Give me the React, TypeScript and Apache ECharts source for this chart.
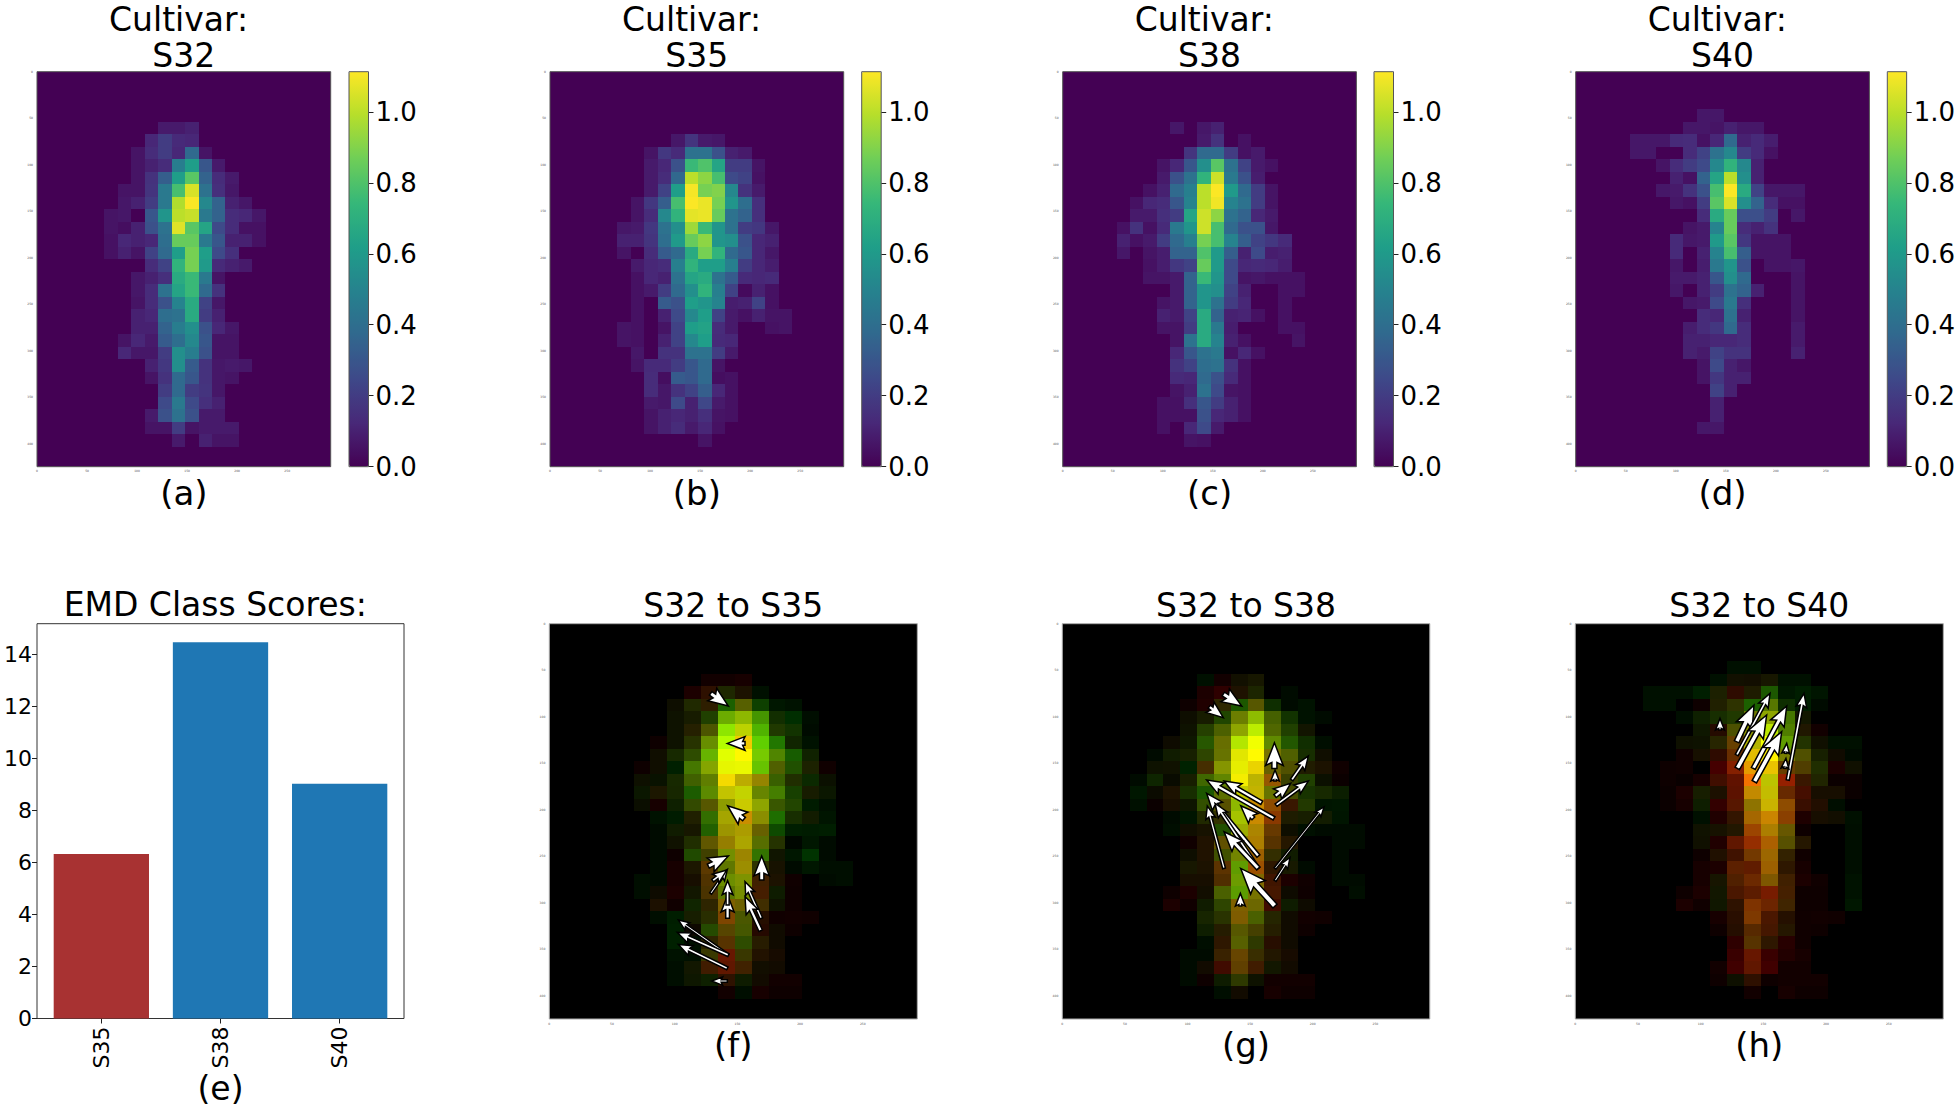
import React, { useEffect, useRef } from "react";
import * as echarts from "echarts";

type Row = number[];

const FONT = "DejaVu Sans";
const CELL = 13.45;
const X_MAX = 293.5;
const Y_MAX = 425;
const COLOR_MAX = 1.113;

const xTicks = [0, 50, 100, 150, 200, 250];
const yTicks = [0, 50, 100, 150, 200, 250, 300, 350, 400];
const colorTicks = [0, 0.2, 0.4, 0.6, 0.8, 1.0];
const viridis = ["#440154", "#482878", "#3e4989", "#31688e", "#26828e", "#1f9e89", "#35b779", "#6ece58", "#b5de2b", "#fde725"];

// each row: [row index, first column, ...values]
const s32: Row[] = [
  [4, 9, .08, .08, .1],
  [5, 8, .12, .2, .13, .12],
  [6, 7, .06, .14, .2, .12, .38, .06],
  [7, 7, .06, .1, .14, .47, .62, .3, .08],
  [8, 7, .06, .16, .33, .62, .82, .35, .14, .08],
  [9, 6, .06, .06, .17, .45, .78, 1.05, .42, .15, .07],
  [10, 6, .07, .1, .2, .45, .98, 1.11, .52, .35, .1, .07],
  [11, 5, .06, .07, 0, .3, .58, 1.0, 1.02, .45, .35, .14, .12, .07],
  [12, 5, .06, .04, .1, .28, .42, 1.06, .82, .65, .25, .14, .05, .05],
  [13, 5, .05, .12, .1, .12, .4, .85, .85, .45, .3, .1, .1, .05],
  [14, 5, .05, .1, .06, .22, .38, .62, .88, .62, .25, .15],
  [15, 8, .14, .22, .72, .88, .6, .13, .1, .08],
  [16, 7, .07, .1, .15, .68, .75, .45, .06],
  [17, 7, .07, .14, .42, .65, .75, .38, .16],
  [18, 7, .06, .14, .28, .5, .68, .22, .07],
  [19, 7, .1, .12, .4, .42, .68, .2, .1],
  [20, 7, .1, .1, .35, .47, .55, .28, .12, .07],
  [21, 6, .06, .12, .08, .32, .4, .52, .3, .06, .06],
  [22, 6, .12, .07, .07, .2, .55, .47, .28, .06, .06],
  [23, 8, .1, .18, .55, .32, .16, .07, .08, .07],
  [24, 8, .06, .16, .38, .3, .16, .07, .06],
  [25, 9, .2, .38, .2, .17, .07],
  [26, 9, .25, .45, .25, .15, .1],
  [27, 8, .08, .28, .42, .28, .08, .08],
  [28, 8, .06, .06, .2, .06, .08, .08, .08],
  [29, 10, .08, 0, .1, .06, .06],
];

const s35: Row[] = [
  [5, 9, .07, .17, .08, .07],
  [6, 7, .06, .18, .13, .42, .42, .28, .1, .08],
  [7, 7, .08, .12, .28, .75, .8, .65, .2, .2, .06],
  [8, 7, .08, .14, .37, 1.0, .92, .78, .25, .22, .05],
  [9, 7, .08, .22, .62, 1.1, .88, .9, .52, .16, .08],
  [10, 6, .06, .18, .33, .78, 1.11, 1.08, .88, .58, .4, .15],
  [11, 6, .06, .14, .52, .72, 1.07, 1.08, .85, .42, .35, .15],
  [12, 5, .07, .08, .18, .42, .55, .95, .75, .58, .42, .2, .18, .07],
  [13, 5, .1, .1, .17, .4, .6, .85, .92, .58, .55, .28, .12, .1],
  [14, 5, .06, 0, .14, .32, .38, .68, .88, .72, .38, .3, .12, .07],
  [15, 6, .08, .12, .14, .48, .72, .62, .62, .48, .2, .12, .09],
  [16, 6, .05, .12, .1, .42, .65, .68, .42, .32, .13, .12, .13],
  [17, 6, .05, .08, .2, .38, .55, .72, .48, .22, .03, .1, .05],
  [18, 6, .05, 0, .32, .28, .62, .58, .5, .09, .1, .22, .05],
  [19, 6, .05, 0, .1, .25, .52, .62, .22, .08, .05, .1, .06, .06],
  [20, 5, .06, .05, 0, .06, .22, .62, .64, .14, .08, 0, 0, .05, .06],
  [21, 5, .06, .05, 0, .1, .22, .52, .62, .13, .12],
  [22, 6, .07, 0, .16, .16, .42, .42, .2, .08],
  [23, 6, .06, .13, .13, .2, .3, .38, .06],
  [24, 7, .14, .04, .32, .3, .38, .04, .05],
  [25, 7, .14, .07, .16, .22, .33, .12, .05],
  [26, 7, .08, .07, .25, .1, .24, .08, .05],
  [27, 7, .06, .1, .12, .1, .15, .06, .05],
  [28, 7, .06, .1, .14, .08, .12, .05],
  [29, 11, .06],
];

const s38: Row[] = [
  [4, 8, .07, 0, .07, .1],
  [5, 10, .08, .16, 0, .05],
  [6, 9, .17, .38, .38, .2, .05, .08],
  [7, 7, .06, .12, .3, .55, .82, .42, .22, .08, .05],
  [8, 7, .08, .28, .42, .72, 1.03, .45, .28, .09],
  [9, 6, .05, .1, .38, .48, 1.0, 1.11, .6, .38, .2, .06],
  [10, 5, .05, .12, .14, .3, .5, 1.0, 1.09, .5, .42, .2, .06],
  [11, 5, .08, .08, .15, .2, .65, 1.03, .92, .42, .35, .12, .08],
  [12, 4, .05, .16, .05, .13, .45, .58, 1.03, .78, .38, .28, .28, .07],
  [13, 4, .1, .05, .08, .2, .38, .48, .88, .78, .5, .33, .22, .18, .13],
  [14, 4, .07, 0, .06, .09, .35, .35, .8, .6, .33, .1, .25, .09, .1],
  [15, 6, .05, .09, .18, .22, .85, .6, .25, .12, .13, .12, .09],
  [16, 6, .06, .06, .08, .35, .75, .58, .25, .06, .07, .05, .05, .05],
  [17, 8, .08, .35, .58, .55, .22, .1, 0, 0, .05, .05],
  [18, 7, .06, .08, .35, .58, .42, .2, .12, 0, 0, .05],
  [19, 7, .1, .08, .22, .68, .35, .1, .11, .05, 0, .05],
  [20, 7, .06, .06, .2, .68, .45, .09, 0, 0, 0, .05, .05],
  [21, 8, .06, .42, .68, .5, .1, .05, 0, 0, 0, .06],
  [22, 8, .12, .3, .42, .45, .05, .12, .05],
  [23, 8, .16, .22, .4, .42, .16, .05],
  [24, 8, .13, .12, .38, .28, .13, .05],
  [25, 8, .06, .1, .42, .25, .06, .05],
  [26, 7, .05, .05, .15, .3, .2, .1, .05],
  [27, 7, .05, .05, .05, .28, .12, .1, .05],
  [28, 7, .05, 0, .12, .25, .08],
  [29, 9, .06, .05],
];

const s40: Row[] = [
  [3, 9, .07, .07],
  [4, 8, .07, .07, .06, .1, .07, .07],
  [5, 4, .07, .07, .07, .13, .14, .05, .12, .38, .1, .13, .09],
  [6, 4, .07, .07, 0, 0, .14, .22, .42, .52, .2, .13, .05],
  [7, 6, .06, .14, .2, .25, .52, .72, .52, .1],
  [8, 7, .1, .05, .35, .65, 1.0, .55, .1],
  [9, 6, .07, .08, .16, .28, .78, 1.11, .68, .22, .07, .07, .07],
  [10, 7, .07, .05, .2, .82, 1.05, .55, .35, .14, .05, .05],
  [11, 9, .14, .68, .85, .27, .27, .2, 0, .07],
  [12, 8, .06, .08, .5, .85, .14, .1, .16],
  [13, 7, .13, .07, .08, .6, .82, .18, .06, .06, .06],
  [14, 7, .13, 0, .1, .5, .78, .33, .06, .06, .06],
  [15, 7, .07, 0, .09, .45, .58, .28, 0, .06, .06, .07],
  [16, 7, .08, .08, .1, .3, .55, .38, 0, 0, 0, .06],
  [17, 7, .07, 0, .1, .2, .42, .35, .1, 0, 0, .06],
  [18, 8, .07, .08, .25, .45, .15, 0, 0, 0, .06],
  [19, 9, .14, .12, .42, .1, 0, 0, 0, .06],
  [20, 8, .09, .14, .18, .38, .14, 0, 0, 0, .08],
  [21, 8, .1, .1, .12, .12, .14, 0, 0, 0, .08],
  [22, 8, .1, .08, .22, .16, .16, 0, 0, 0, .1],
  [23, 9, .06, .25, .1, .07],
  [24, 9, .06, .18, .1, .1],
  [25, 10, .22, .1],
  [26, 10, .1],
  [27, 10, .1],
  [28, 9, .07, .07],
];

const cultivars = ["S32", "S35", "S38", "S40"];
const panelLabels = ["(a)", "(b)", "(c)", "(d)"];
const barCategories = ["S35", "S38", "S40"];
const barValues = [6.32, 14.46, 9.02];
const barColors = ["#a83232", "#1f77b4", "#1f77b4"];
const barTicks = [0, 2, 4, 6, 8, 10, 12, 14];

// arrows: tail x, tail y, tip x, tip y, shaft width
const arrowsF: number[][] = [
  [128.7, 74.9, 142.8, 88.5, 3], [156.1, 128.7, 142, 128.7, 3], [155.3, 210, 142.2, 195.7, 3],
  [126.8, 260.6, 142.8, 249.8, 3], [128.7, 290, 142, 264.2, 1.5], [130.3, 276.3, 141.5, 264.9, 2],
  [142.2, 316.8, 142.2, 291.8, 2.5], [142.2, 302.5, 142.2, 276.3, 2], [169.1, 316.8, 156.1, 277.4, 1.8],
  [168.6, 330.1, 156.1, 293.5, 2.5], [169.4, 275.6, 169.4, 249.8, 3], [142.8, 356.3, 102.9, 318.6, 1.5],
  [142.8, 356.3, 102.1, 331.9, 2], [142, 370.6, 102.9, 344.8, 2], [142, 384.2, 129.5, 384.2, 1.5],
];
const arrowsG: number[][] = [
  [128.6, 75.6, 143.3, 88.5, 3], [117.4, 89.2, 128.6, 101.1, 2.5], [169.4, 155.6, 169.4, 128, 3.5],
  [169.9, 169.2, 169.9, 157.3, 2], [183.2, 168.1, 196.5, 142.3, 2], [169.9, 185.3, 182.4, 171.7, 2.5],
  [170.7, 195, 196.5, 169.2, 2], [159.3, 192.5, 129.2, 169.2, 2.5], [152.6, 209.3, 142.5, 195.7, 3],
  [169.1, 209.3, 115.3, 168.1, 2.5], [156.6, 249.8, 115.3, 182.4, 2.5], [156.6, 263.1, 122, 193.2, 2],
  [129.2, 263.1, 115.8, 196.1, 1.8], [156.6, 263.1, 129.2, 223.7, 3], [169.9, 263.1, 209.1, 196.8, 1.3],
  [169.9, 276.3, 181.9, 251.3, 1.5], [169.9, 303.6, 142.5, 263.1, 4], [142.2, 303.6, 142.2, 290, 2.5],
];
const arrowsH: number[][] = [
  [115.4, 114.3, 115.4, 101.8, 2], [128.7, 126.9, 142.5, 87.5, 3.5], [128.7, 141.2, 155.3, 74.9, 2],
  [129.2, 155.6, 152.6, 98.2, 3.5], [142, 155.6, 168.6, 88.5, 3], [142.8, 169.9, 164.6, 116.1, 3.5],
  [169.4, 168.1, 182.4, 74.9, 2], [167.8, 139.4, 168.6, 128.7, 1.5], [167.2, 155.6, 168, 144.8, 1.5],
];

const topPanels = [
  { left: 37, cb: 349 },
  { left: 550, cb: 861.7 },
  { left: 1062.7, cb: 1374 },
  { left: 1575.7, cb: 1887.3 },
];
const lowerPanels = [
  { left: 549.3, width: 368, target: s35, name: "S32 to S35", label: "(f)", arrows: arrowsF },
  { left: 1062.3, width: 367.5, target: s38, name: "S32 to S38", label: "(g)", arrows: arrowsG },
  { left: 1575.3, width: 368, target: s40, name: "S32 to S40", label: "(h)", arrows: arrowsH },
];

const cells = (rows: Row[]): Map<string, number> => {
  const m = new Map<string, number>();
  rows.forEach(([r, c0, ...vals]) => vals.forEach((v, i) => { if (v > 0) m.set(`${r}:${c0 + i}`, v); }));
  return m;
};

const cellData = (rows: Row[]) =>
  Array.from(cells(rows).entries()).map(([k, v]) => {
    const [r, c] = k.split(":").map(Number);
    return [c * CELL, r * CELL, v];
  });

const pairData = (a: Row[], b: Row[]) => {
  const ma = cells(a);
  const mb = cells(b);
  const keys = new Set([...ma.keys(), ...mb.keys()]);
  return Array.from(keys).map((k) => {
    const [r, c] = k.split(":").map(Number);
    return [c * CELL, r * CELL, ma.get(k) || 0, mb.get(k) || 0];
  });
};

const rectOf = (api: any) => {
  const p0 = api.coord([api.value(0), api.value(1)]);
  const p1 = api.coord([api.value(0) + CELL, api.value(1) + CELL]);
  const x0 = Math.round(p0[0]);
  const y0 = Math.round(p0[1]);
  return { x: x0, y: y0, width: Math.round(p1[0]) - x0, height: Math.round(p1[1]) - y0 };
};

const renderViridisCell = (_: any, api: any) => ({
  type: "rect",
  shape: rectOf(api),
  style: { fill: api.visual("color") },
});

const renderPairCell = (_: any, api: any) => {
  const r = Math.min(255, Math.round((api.value(2) / 1.11) * 255));
  const g = Math.min(255, Math.round((api.value(3) / 1.11) * 255));
  return { type: "rect", shape: rectOf(api), style: { fill: `rgb(${r},${g},0)` } };
};

const renderArrow = (_: any, api: any) => {
  const a = api.coord([api.value(0), api.value(1)]);
  const b = api.coord([api.value(2), api.value(3)]);
  const w = 1.3 * api.value(4) + 0.5;
  const dx = b[0] - a[0];
  const dy = b[1] - a[1];
  const L = Math.hypot(dx, dy) || 1;
  const ux = dx / L;
  const uy = dy / L;
  const s = Math.min(1, L / (4.5 * w));
  const hl = 4.5 * w * s;
  const notch = 3.9 * w * s;
  const hw = 1.75 * w * s;
  const sw = (w / 2) * s;
  const P = (along: number, side: number) => [a[0] + ux * along - uy * side, a[1] + uy * along + ux * side];
  const points = [
    P(0, sw), P(L - notch, sw), P(L - hl, hw), P(L, 0), P(L - hl, -hw), P(L - notch, -sw), P(0, -sw),
  ];
  return {
    type: "polygon",
    shape: { points },
    style: { fill: "#ffffff", stroke: "#000000", lineWidth: 1.5, lineJoin: "miter" },
  };
};

const heatAxes = (gridIndex: number, label: string) => ({
  x: {
    gridIndex, type: "value", min: 0, max: X_MAX, position: "bottom",
    name: label, nameLocation: "middle", nameGap: 9,
    nameTextStyle: { fontFamily: FONT, fontSize: 34, color: "#000", verticalAlign: "top" },
    axisLine: { show: false, onZero: false },
    axisTick: { show: false },
    splitLine: { show: false },
    axisLabel: { show: true, customValues: xTicks, fontSize: 3, color: "#555", margin: 3, fontFamily: FONT },
  },
  y: {
    gridIndex, type: "value", min: 0, max: Y_MAX, inverse: true,
    axisLine: { show: false, onZero: false },
    axisTick: { show: false },
    splitLine: { show: false },
    axisLabel: { show: true, customValues: yTicks, fontSize: 3, color: "#555", margin: 4, fontFamily: FONT },
  },
});

const buildOption = () => {
  const TOP_Y = 71.7;
  const TOP_H = 395;
  const LOW_Y = 623.7;
  const title: any[] = [];
  const grid: any[] = [];
  const xAxis: any[] = [];
  const yAxis: any[] = [];
  const series: any[] = [];
  const visualMap: any[] = [];
  const titleStyle = { fontFamily: FONT, fontSize: 33, fontWeight: "normal", color: "#000", lineHeight: 37 };
  const headStyle = { ...titleStyle, lineHeight: 36 };

  [s32, s35, s38, s40].forEach((rows, i) => {
    const p = topPanels[i];
    const gridIndex = grid.length;
    grid.push({ left: p.left, top: TOP_Y, width: 293.7, height: TOP_H, show: true, backgroundColor: "#440154", borderColor: "#555", borderWidth: 1 });
    const ax = heatAxes(gridIndex, panelLabels[i]);
    xAxis.push(ax.x);
    yAxis.push(ax.y);
    visualMap.push({
      type: "continuous", show: true, seriesIndex: series.length, dimension: 2,
      min: 0, max: COLOR_MAX, left: p.cb, top: TOP_Y, itemWidth: 19.5, itemHeight: TOP_H,
      padding: 0, calculable: false, hoverLink: false, inRange: { color: viridis },
    });
    series.push({
      type: "custom", xAxisIndex: gridIndex, yAxisIndex: gridIndex, clip: false,
      data: cellData(rows), encode: { x: 0, y: 1 }, renderItem: renderViridisCell,
    });
    title.push({
      text: `Cultivar: \n${cultivars[i]}`, left: p.left + 146.8, top: 1, padding: 0, textAlign: "center", textStyle: headStyle,
    });
    const cbIndex = grid.length;
    grid.push({ left: p.cb, top: TOP_Y, width: 19.5, height: TOP_H, show: true, backgroundColor: "transparent", borderColor: "#555", borderWidth: 1, z: 6 });
    xAxis.push({ gridIndex: cbIndex, type: "value", min: 0, max: 1, show: false });
    yAxis.push({
      gridIndex: cbIndex, type: "value", min: 0, max: COLOR_MAX, position: "right",
      axisLine: { show: false, onZero: false },
      axisTick: { show: true, length: 5, customValues: colorTicks, lineStyle: { color: "#222", width: 1 } },
      splitLine: { show: false },
      axisLabel: {
        show: true, customValues: colorTicks, fontSize: 26, color: "#000", margin: 7, fontFamily: FONT,
        formatter: (v: number) => v.toFixed(1),
      },
    });
  });

  // bar panel
  const barGrid = grid.length;
  grid.push({ left: 37, top: LOW_Y, width: 367, height: 394.8, show: true, backgroundColor: "#fff", borderColor: "#333", borderWidth: 1 });
  xAxis.push({
    gridIndex: barGrid, type: "value", min: -0.54, max: 2.54, position: "bottom",
    name: "(e)", nameLocation: "middle", nameGap: 48,
    nameTextStyle: { fontFamily: FONT, fontSize: 33, color: "#000", verticalAlign: "top" },
    axisLine: { show: false, onZero: false },
    axisTick: { show: true, length: 5, customValues: [0, 1, 2], lineStyle: { color: "#222" } },
    splitLine: { show: false },
    axisLabel: {
      show: true, customValues: [0, 1, 2], rotate: 90, fontSize: 22, color: "#000", margin: 8, fontFamily: FONT,
      formatter: (v: number) => barCategories[Math.round(v)],
    },
  });
  yAxis.push({
    gridIndex: barGrid, type: "value", min: 0, max: 15.17,
    axisLine: { show: false, onZero: false },
    axisTick: { show: true, length: 5, customValues: barTicks, lineStyle: { color: "#222" } },
    splitLine: { show: false },
    axisLabel: { show: true, customValues: barTicks, fontSize: 22, color: "#000", margin: 5, fontFamily: FONT },
  });
  series.push({
    type: "bar", xAxisIndex: barGrid, yAxisIndex: barGrid, barWidth: 95.3,
    data: barValues.map((v, i) => ({ value: [i, v], itemStyle: { color: barColors[i] } })),
  });
  title.push({ text: "EMD Class Scores: ", left: 220.5, top: 586, padding: 0, textAlign: "center", textStyle: titleStyle });

  lowerPanels.forEach((p) => {
    const gridIndex = grid.length;
    grid.push({ left: p.left, top: LOW_Y, width: p.width, height: TOP_H + 0.3, show: true, backgroundColor: "#000", borderColor: "#aaa", borderWidth: 1 });
    const ax = heatAxes(gridIndex, p.label);
    xAxis.push(ax.x);
    yAxis.push(ax.y);
    series.push({
      type: "custom", xAxisIndex: gridIndex, yAxisIndex: gridIndex, clip: false,
      data: pairData(s32, p.target), encode: { x: 0, y: 1 }, renderItem: renderPairCell,
    });
    series.push({
      type: "custom", xAxisIndex: gridIndex, yAxisIndex: gridIndex, clip: false, z: 5,
      data: p.arrows, encode: { x: [0, 2], y: [1, 3] }, renderItem: renderArrow,
    });
    title.push({ text: p.name, left: p.left + p.width / 2, top: 587, padding: 0, textAlign: "center", textStyle: titleStyle });
  });

  return { animation: false, backgroundColor: "#fff", title, grid, xAxis, yAxis, visualMap, series };
};

export default function App() {
  const ref = useRef<HTMLDivElement>(null);
  useEffect(() => {
    const chart = echarts.init(ref.current!, undefined, { renderer: "svg" });
    chart.setOption(buildOption() as any);
    return () => chart.dispose();
  }, []);
  return <div ref={ref} style={{ position: "absolute", left: 0, top: 0, width: 1958, height: 1107 }} />;
}
